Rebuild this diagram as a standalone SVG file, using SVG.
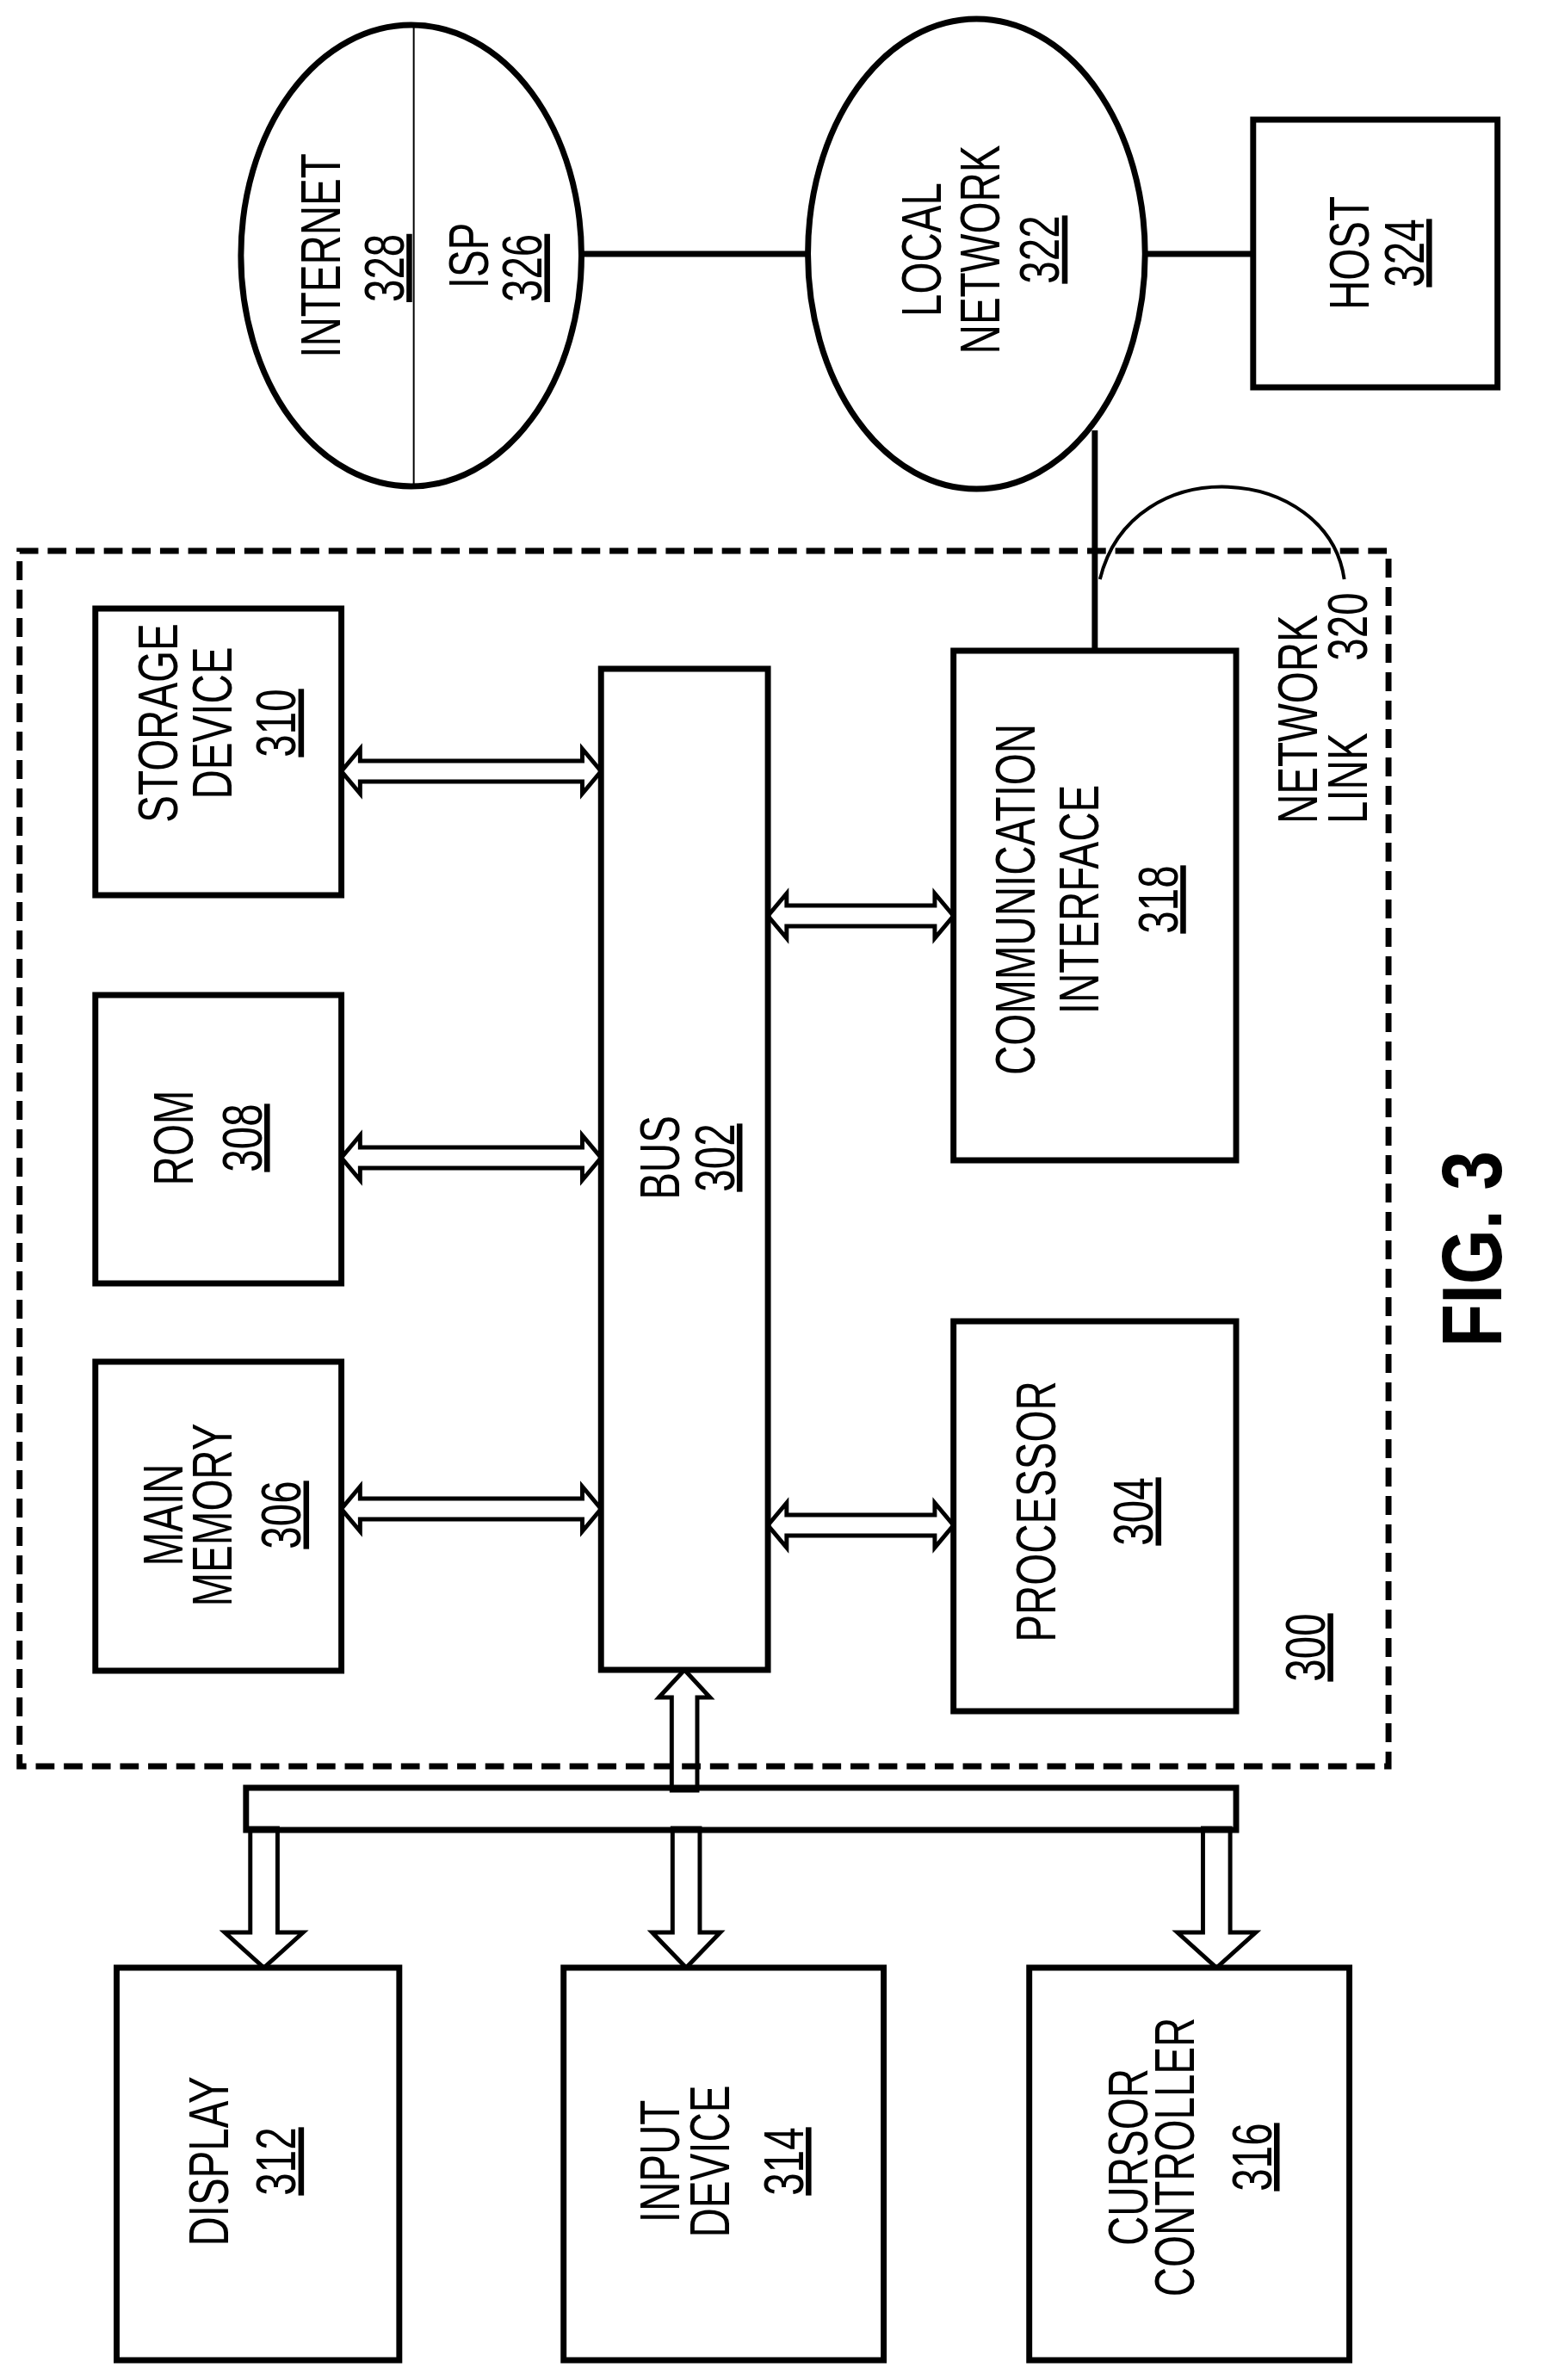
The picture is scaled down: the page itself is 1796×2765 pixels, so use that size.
<svg xmlns="http://www.w3.org/2000/svg" width="1796" height="2765" viewBox="0 0 1796 2765">
<style>
.b{fill:#fff;stroke:#000;stroke-width:7}
.a{fill:#fff;stroke:#000;stroke-width:5;stroke-linejoin:miter}
.l{fill:none;stroke:#000;stroke-width:7}
text{font-family:"Liberation Sans",Arial,sans-serif;font-size:66px;fill:#000;text-anchor:middle}
.u{text-decoration:underline}
.s{text-anchor:start}
</style>
<rect width="1796" height="2765" fill="#fff"/>
<g transform="scale(0.989,1)">
<g id="connectors">
<line class="l" x1="683" y1="295" x2="949" y2="295"/>
<line class="l" x1="1346" y1="295" x2="1472" y2="295"/>
<line class="l" x1="1286" y1="500" x2="1286" y2="756"/>
<path d="M1579,673 C1560,540 1330,520 1292,673" fill="none" stroke="#000" stroke-width="4"/>
<polygon class="a" points="401,896 423,870 423,884 684,884 684,870 706,896 684,922 684,908 423,908 423,922"/>
<polygon class="a" points="401,1345 423,1319 423,1333 684,1333 684,1319 706,1345 684,1371 684,1357 423,1357 423,1371"/>
<polygon class="a" points="401,1753 423,1727 423,1741 684,1741 684,1727 706,1753 684,1779 684,1765 423,1765 423,1779"/>
<polygon class="a" points="902,1064 924,1038 924,1052 1098,1052 1098,1038 1120,1064 1098,1090 1098,1076 924,1076 924,1090"/>
<polygon class="a" points="902,1772 924,1746 924,1760 1098,1760 1098,1746 1120,1772 1098,1798 1098,1784 924,1784 924,1798"/>
<polygon class="a" points="804,1940 834,1972 819,1972 819,2080 789,2080 789,1972 774,1972"/>
<polygon class="a" points="294,2124 326,2124 326,2245 356,2245 310,2286 264,2245 294,2245"/>
<polygon class="a" points="790,2124 822,2124 822,2245 846,2245 806,2286 766,2245 790,2245"/>
<polygon class="a" points="1413,2124 1445,2124 1445,2245 1475,2245 1429,2286 1383,2245 1413,2245"/>
<rect x="289" y="2077" width="1163" height="49" fill="none" stroke="#000" stroke-width="7"/>
</g>
<g id="system300">
<rect x="23" y="640" width="1608" height="1412" fill="none" stroke="#000" stroke-width="7" stroke-dasharray="22,11"/>
<text transform="translate(1556,1914) rotate(-90) scale(0.72,1)" class="u">300</text>
</g>
<g id="internet">
<ellipse class="b" cx="483" cy="297" rx="200" ry="268"/>
<line x1="486" y1="30" x2="486" y2="564" stroke="#000" stroke-width="2"/>
<g transform="translate(0,297) rotate(-90) scale(0.72,1)"><text x="0" y="399">INTERNET</text><text x="-20" y="474" class="u">328</text><text x="0" y="573">ISP</text><text x="-20" y="636" class="u">326</text></g>
</g>
<g id="local">
<ellipse class="b" cx="1147" cy="295" rx="198" ry="273"/>
<g transform="translate(0,290) rotate(-90) scale(0.72,1)"><text y="1105">LOCAL</text><text y="1174">NETWORK</text><text y="1244" class="u">322</text></g>
</g>
<g id="host">
<rect class="b" x="1472" y="139" width="287" height="311"/>
<g transform="translate(0,294) rotate(-90) scale(0.72,1)"><text y="1608">HOST</text><text y="1672" class="u">324</text></g>
</g>
<g id="link320">
<g transform="translate(0,957) rotate(-90) scale(0.72,1)"><text class="s" y="1547">NETWORK</text><text class="s" y="1606">LINK</text></g>
<text transform="translate(1606,728) rotate(-90) scale(0.72,1)">320</text>
</g>
<g id="storage">
<rect class="b" x="112" y="707" width="289" height="333"/>
<g transform="translate(0,840) rotate(-90) scale(0.72,1)"><text y="208">STORAGE</text><text y="272">DEVICE</text><text y="347" class="u">310</text></g>
</g>
<g id="rom">
<rect class="b" x="112" y="1156" width="289" height="335"/>
<g transform="translate(0,1322) rotate(-90) scale(0.72,1)"><text y="226">ROM</text><text y="307" class="u">308</text></g>
</g>
<g id="mainmem">
<rect class="b" x="112" y="1582" width="289" height="359"/>
<g transform="translate(0,1760) rotate(-90) scale(0.72,1)"><text y="214">MAIN</text><text y="272">MEMORY</text><text y="353" class="u">306</text></g>
</g>
<g id="bus">
<rect class="b" x="706" y="777" width="196" height="1163"/>
<g transform="translate(0,1345) rotate(-90) scale(0.72,1)"><text y="798">BUS</text><text y="862" class="u">302</text></g>
</g>
<g id="comm">
<rect class="b" x="1120" y="756" width="332" height="592"/>
<g transform="translate(0,1045) rotate(-90) scale(0.72,1)"><text y="1215">COMMUNICATION</text><text y="1290">INTERFACE</text><text y="1383" class="u">318</text></g>
</g>
<g id="processor">
<rect class="b" x="1120" y="1535" width="332" height="453"/>
<g transform="translate(0,1756) rotate(-90) scale(0.72,1)"><text y="1240">PROCESSOR</text><text y="1354" class="u">304</text></g>
</g>
<g id="display">
<rect class="b" x="137" y="2286" width="332" height="456"/>
<g transform="translate(0,2511) rotate(-90) scale(0.72,1)"><text y="268">DISPLAY</text><text y="347" class="u">312</text></g>
</g>
<g id="input">
<rect class="b" x="662" y="2286" width="376" height="456"/>
<g transform="translate(0,2511) rotate(-90) scale(0.72,1)"><text y="798">INPUT</text><text y="856">DEVICE</text><text y="943" class="u">314</text></g>
</g>
<g id="cursor">
<rect class="b" x="1209" y="2286" width="376" height="456"/>
<g transform="translate(0,2506) rotate(-90) scale(0.72,1)"><text y="1348">CURSOR</text><text y="1402">CONTROLLER</text><text y="1493" class="u">316</text></g>
</g>
<g id="fig">
<text transform="translate(1763,1451) rotate(-90) scale(0.82,1)" style="font-size:100px;font-weight:bold">FIG. 3</text>
</g>
</g>
</svg>
